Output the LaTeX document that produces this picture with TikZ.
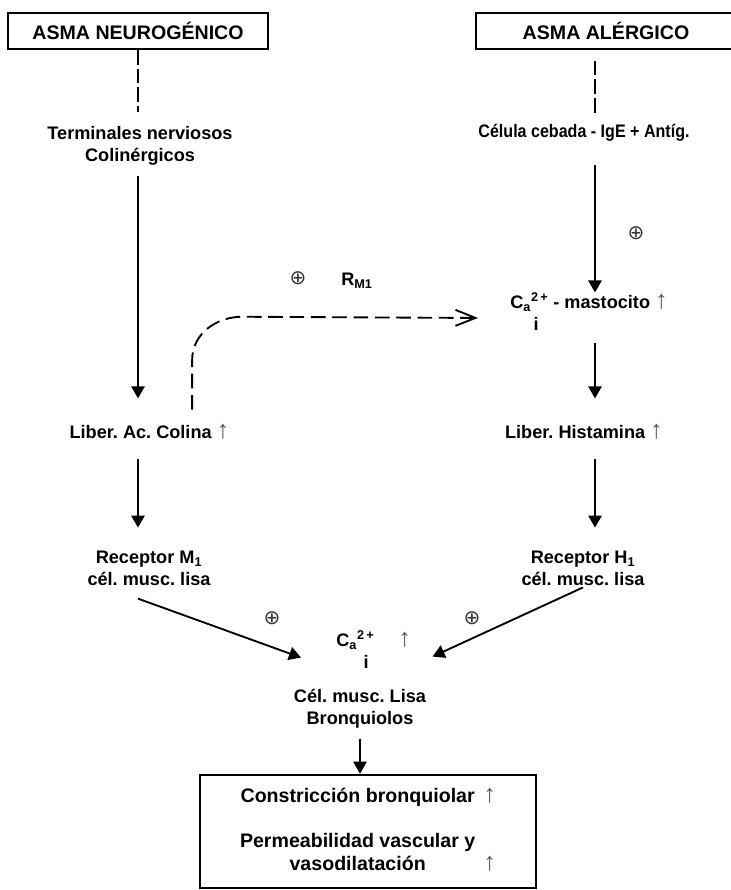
\documentclass[tikz,border=0pt]{standalone}
\usepackage{graphicx}
\usepackage{fontspec}
\setmainfont{Liberation Sans}
\newfontfamily\simbolo{DejaVu Sans}
\usetikzlibrary{arrows.meta}
\newcommand{\sube}{\smash{\mdseries\color{black!65}\fontsize{19}{19}\selectfont↑}}
\newcommand{\mas}{{\simbolo ⊕}}
\newcommand{\calcio}{C\textsubscript{a}\textsuperscript{2\,+}}
\frenchspacing

\begin{document}
\begin{tikzpicture}[x=0.75pt,y=-0.75pt,
  titulo/.style={draw,line width=1.3pt,minimum width=195pt,minimum height=27pt,inner sep=0pt,font=\fontsize{14.7}{17}\selectfont\bfseries},
  texto/.style={align=center,inner sep=0pt,font=\fontsize{13.6}{16.5}\selectfont\bfseries},
  signo/.style={inner sep=0pt,text=black!80,font=\fontsize{15}{15}\selectfont},
  flecha/.style={line width=1.4pt,-{Triangle[length=9pt,width=10pt]}},
  guion/.style={line width=1.3pt,dash pattern=on 11pt off 3pt},
  curva/.style={line width=1.4pt,dash pattern=on 11pt off 5pt,-{Straight Barb[length=15pt,width=12pt]}},
  caja/.style={draw,line width=2pt,minimum width=252pt,minimum height=84.75pt,inner sep=0pt,font=\fontsize{14.7}{17.25}\selectfont\bfseries}]
  \useasboundingbox (0,0) rectangle (731,890);
  \coordinate (colL) at (138,0);
  \coordinate (colR) at (595,0);

  \node[titulo] (neuro) at (138,31) {ASMA NEUROGÉNICO};
  \node[titulo] (alerg) at (606,31) {ASMA ALÉRGICO};
  \node[texto] (term) at (140,146) {Terminales nerviosos\\Colinérgicos};
  \node[texto] (celula) at (584,133) {\scalebox{0.886}[1]{Célula cebada - IgE + Antíg.}};
  \node[signo] (mas1) at (636,233) {\mas};
  \node[signo] (mas2) at (298,278) {\mas};
  \node[texto] (rm1) at (357,281) {R\textsubscript{M1}};
  \node[texto,align=left,anchor=base west] (masto) at (510,330.5) {\calcio{} - mastocito \sube\\\hspace*{17.6pt}i};
  \node[texto] (colina) at (149.5,432) {Liber. Ac. Colina \sube};
  \node[texto] (hista) at (584,432) {Liber. Histamina \sube};
  \node[texto] (recm) at (149,568.5) {Receptor M\textsubscript{1}\\cél. musc. lisa};
  \node[texto] (rech) at (583,568.5) {Receptor H\textsubscript{1}\\cél. musc. lisa};
  \node[signo] (mas3) at (272,618) {\mas};
  \node[signo] (mas4) at (472,618) {\mas};
  \node[texto,align=left,anchor=base west] (cai) at (336,668.5) {\calcio\hspace{18pt}\sube\\\hspace*{20.6pt}i};
  \node[texto] (bronq) at (360,709) {Cél. musc. Lisa\\Bronquiolos};
  \node[caja] (efecto) at (368,831.5) {\begin{tabular}{@{}c@{\hspace{6pt}}l@{}}
    Constricción bronquiolar & \sube\\[16.5pt]
    Permeabilidad vascular y & \\
    vasodilatación & \sube
  \end{tabular}};

  \draw[guion,shorten >=11pt] (neuro.south) -- (term.north -| neuro.south);
  \draw[guion,shorten <=8pt,shorten >=7pt] (alerg.south -| colR) -- (celula.north -| colR);
  \draw[flecha,shorten <=8pt,shorten >=20pt] (term.south -| colL) -- (colina.north -| colL);
  \draw[flecha,shorten <=17pt] (celula.south -| colR) -- (masto.north -| colR);
  \draw[flecha,shorten <=9pt,shorten >=20pt] (masto.south -| colR) -- (hista.north -| colR);
  \draw[flecha,shorten <=15pt,shorten >=17.5pt] (colina.south -| colL) -- (recm.north -| colL);
  \draw[flecha,shorten <=15pt,shorten >=17.5pt] (hista.south -| colR) -- (rech.north -| colR);
  \draw[curva] ([shift={(32pt,11.5pt)}]colina.north) -- ++(0,-50) to[out=90,in=180] ++(50,-43) -- ([shift={(-24pt,9.4pt)}]masto.base west);
  \draw[flecha] ([shift={(-8.25pt,-9.4pt)}]recm.south) -- ([shift={(-26.25pt,-6pt)}]cai.west);
  \draw[flecha] ([yshift=-1pt]rech.south) -- ([shift={(16pt,-5.25pt)}]cai.east);
  \draw[flecha,shorten <=7.5pt] (bronq.south) -- (bronq.south |- efecto.north);
\end{tikzpicture}
\end{document}
